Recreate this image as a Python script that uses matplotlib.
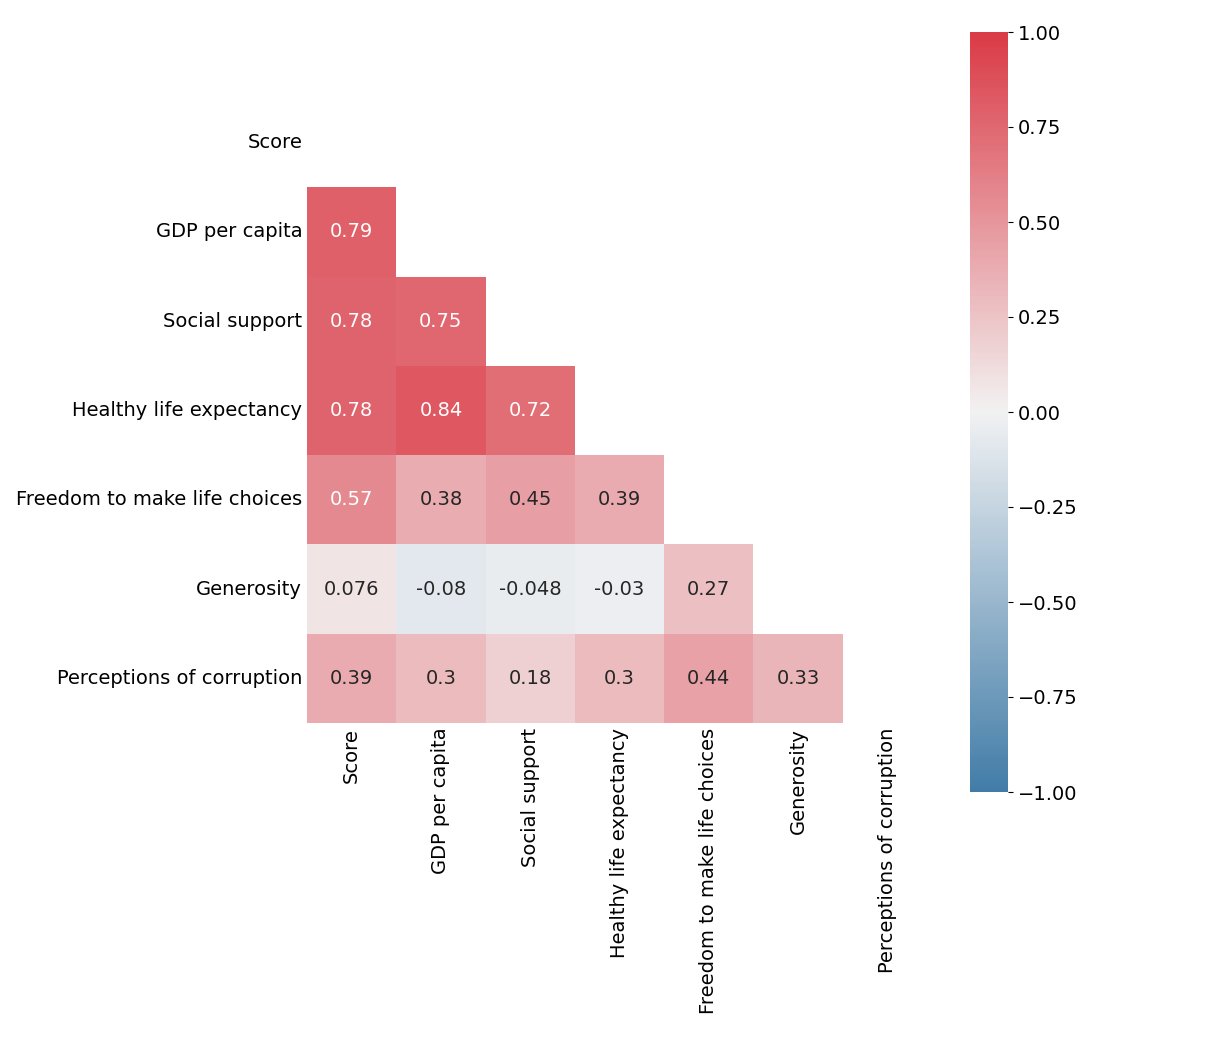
import numpy as np
import matplotlib
matplotlib.use("Agg")
import matplotlib.pyplot as plt
import seaborn as sns

labels = ["Score", "GDP per capita", "Social support", "Healthy life expectancy",
          "Freedom to make life choices", "Generosity", "Perceptions of corruption"]

# lower-triangle correlations, row by row
row_gdp = [0.79]
row_social = [0.78, 0.75]
row_health = [0.78, 0.84, 0.72]
row_freedom = [0.57, 0.38, 0.45, 0.39]
row_generosity = [0.076, -0.08, -0.048, -0.03, 0.27]
row_corruption = [0.39, 0.3, 0.18, 0.3, 0.44, 0.33]
rows = [[], row_gdp, row_social, row_health, row_freedom, row_generosity, row_corruption]

n = len(labels)
corr = np.eye(n)
for i, r in enumerate(rows):
    for j, v in enumerate(r):
        corr[i, j] = v
        corr[j, i] = v
mask = np.triu(np.ones_like(corr, dtype=bool))

fig = plt.figure(figsize=(12.1, 10.46), dpi=100)
ax = fig.add_axes([306/1210, 1-723/1046, 627/1210, 625/1046])
cax = fig.add_axes([970/1210, 1-792/1046, 38/1210, 760/1046])
cmap = sns.diverging_palette(240, 10, as_cmap=True)
sns.heatmap(corr, mask=mask, cmap=cmap, vmin=-1, vmax=1, center=0, annot=True,
            square=True, ax=ax, cbar_ax=cax, xticklabels=labels, yticklabels=labels,
            annot_kws={"fontsize": 14})
ax.tick_params(labelsize=14, length=0)
ax.set_xticklabels(labels, rotation=90)
ax.set_yticklabels(labels, rotation=0)
cax.tick_params(labelsize=14)
cax.set_yticks([-1, -0.75, -0.5, -0.25, 0, 0.25, 0.5, 0.75, 1])
cax.set_yticklabels(["\u22121.00", "\u22120.75", "\u22120.50", "\u22120.25", "0.00", "0.25", "0.50", "0.75", "1.00"])
fig.savefig("out.png", dpi=100)
